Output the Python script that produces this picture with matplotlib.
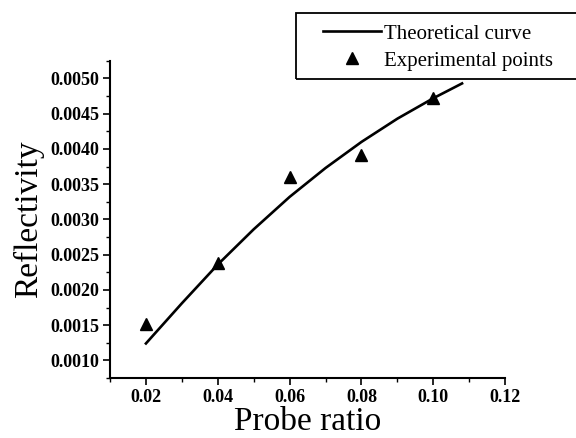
import numpy as np
import matplotlib
matplotlib.use("Agg")
import matplotlib.pyplot as plt
from matplotlib.patches import Rectangle
from matplotlib.ticker import MultipleLocator

# theoretical curve
curve_x = [0.020, 0.030, 0.040, 0.050, 0.060, 0.070, 0.080, 0.090, 0.100, 0.108]
curve_y = [0.00124, 0.00181, 0.00236, 0.00286, 0.00332, 0.00373, 0.00410,
           0.00443, 0.00472, 0.00493]

# experimental points
exp_x = [0.02, 0.04, 0.06, 0.08, 0.10]
exp_y = [0.00152, 0.00238, 0.00360, 0.00392, 0.00473]

plt.rcParams["font.family"] = ["Liberation Serif", "DejaVu Serif"]

fig = plt.figure(figsize=(5.76, 4.38), dpi=100, facecolor="white")
ax = fig.add_axes([0.191, 0.137, 0.686, 0.724])

ax.plot(curve_x, curve_y, "-", color="black", lw=1.9, label="Theoretical curve")
ax.plot(exp_x, exp_y, "^", color="black", ms=8, ls="none",
        label="Experimental points")

ax.set_xlim(0.01, 0.12)
ax.set_ylim(0.00075, 0.00525)
ax.xaxis.set_minor_locator(MultipleLocator(0.01))
ax.yaxis.set_minor_locator(MultipleLocator(0.00025))
xt = [0.02, 0.04, 0.06, 0.08, 0.10, 0.12]
ax.set_xticks(xt)
ax.set_xticklabels([f"{v:.2f}" for v in xt])
yt = [0.0010, 0.0015, 0.0020, 0.0025, 0.0030, 0.0035, 0.0040, 0.0045, 0.0050]
ax.set_yticks(yt)
ax.set_yticklabels([f"{v:.4f}" for v in yt])

for lab in ax.get_xticklabels() + ax.get_yticklabels():
    lab.set_fontweight("bold")
    lab.set_fontsize(13)

ax.tick_params(which="major", direction="out", length=5, width=1.2,
               colors="black", pad=3)
ax.tick_params(which="minor", direction="out", length=3, width=1.0)

for s in ["top", "right"]:
    ax.spines[s].set_visible(False)
for s in ["left", "bottom"]:
    ax.spines[s].set_linewidth(1.5)

ax.set_xlabel("Probe ratio", fontsize=24, labelpad=0)
ax.set_ylabel("Reflectivity", fontsize=24, labelpad=4)

# legend box runs off the right edge, as in the scan
fig.legend(loc="upper left", bbox_to_anchor=(0.561, 0.945),
           fontsize=15, frameon=False, handlelength=2.8,
           handletextpad=0.1, borderpad=0, borderaxespad=0, labelspacing=0.36)
fig.patches.append(Rectangle((296 / 576, 1 - 79 / 438), 300 / 576, 66 / 438,
                             transform=fig.transFigure, fill=False,
                             edgecolor="black", lw=1.3))

fig.savefig("out.png", dpi=100, facecolor="white")
